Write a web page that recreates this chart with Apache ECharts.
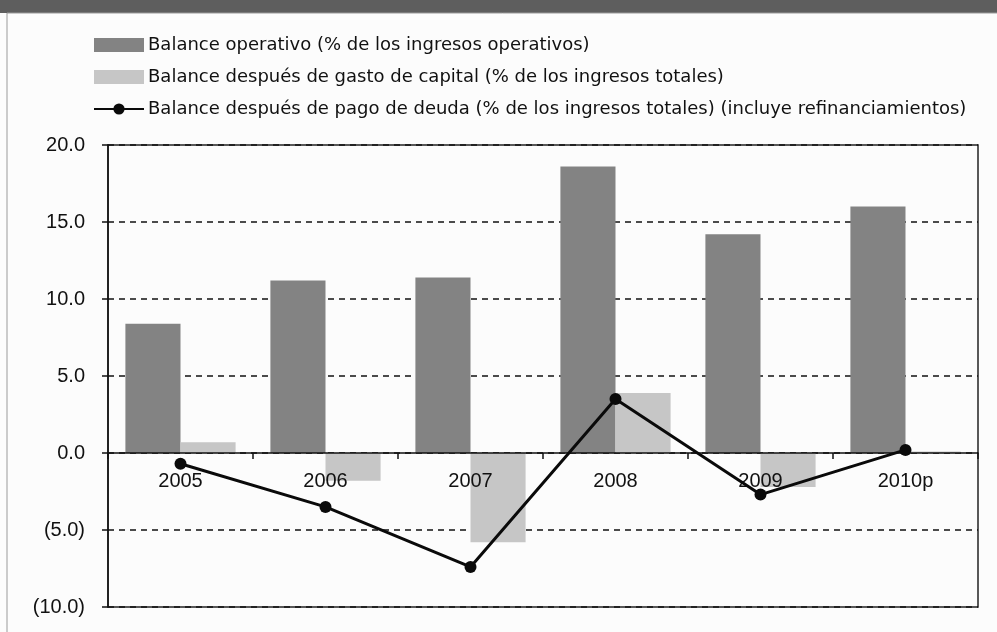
<!DOCTYPE html>
<html>
<head>
<meta charset="utf-8">
<script src="https://cdn.jsdelivr.net/npm/echarts@6/dist/echarts.min.js"></script>
<style>
  html, body { margin: 0; padding: 0; background: #fcfcfc; }
  #main { width: 997px; height: 632px; }
</style>
</head>
<body>
<div id="main"></div>
<script>
  var years = ['2005', '2006', '2007', '2008', '2009', '2010p'];
  var balanceOperativo = [8.4, 11.2, 11.4, 18.6, 14.2, 16.0];
  var balanceCapital = [0.7, -1.8, -5.8, 3.9, -2.2, 0.1];
  var balanceDeuda = [-0.7, -3.5, -7.4, 3.5, -2.7, 0.2];

  var names = [
    'Balance operativo (% de los ingresos operativos)',
    'Balance después de gasto de capital (% de los ingresos totales)',
    'Balance después de pago de deuda (% de los ingresos totales) (incluye refinanciamientos)'
  ];

  var font = '"Liberation Sans", Arial, sans-serif';

  function fmt(v) {
    return v < 0 ? '(' + Math.abs(v).toFixed(1) + ')' : v.toFixed(1);
  }

  // grid: top 145, bottom 25 -> zero line sits 154px above the bottom edge
  var myChart = echarts.init(document.getElementById('main'));
  myChart.setOption({
    backgroundColor: '#fcfcfc',
    animation: false,
    graphic: [
      { type: 'rect', shape: { x: 0, y: 0, width: 997, height: 13 }, style: { fill: '#5e5e5e' } },
      { type: 'rect', shape: { x: 7, y: 13, width: 1000, height: 630 }, style: { fill: 'none', stroke: '#9a9a9a', lineWidth: 1 } }
    ],
    legend: {
      orient: 'vertical',
      left: 88,
      top: 31,
      itemWidth: 50,
      itemHeight: 14,
      itemGap: 14,
      data: [
        { name: names[0], icon: 'rect' },
        { name: names[1], icon: 'rect' },
        { name: names[2] }
      ],
      textStyle: { fontFamily: '"DejaVu Sans", sans-serif', fontSize: 18, color: '#111', padding: [0, 0, 0, -1] }
    },
    grid: {
      left: 108, right: 19, top: 145, bottom: 25,
      show: true, borderColor: '#222', borderWidth: 1.5, backgroundColor: 'transparent'
    },
    xAxis: {
      type: 'category',
      data: years,
      offset: -154,
      z: 5,
      axisLine: { onZero: false, lineStyle: { color: '#111', width: 1.5 } },
      axisTick: { show: true, length: 6, lineStyle: { color: '#111', width: 1.5 } },
      axisLabel: { fontFamily: font, fontSize: 20, color: '#111', margin: 18 }
    },
    yAxis: {
      type: 'value',
      min: -10, max: 20, interval: 5,
      axisLine: { show: true, lineStyle: { color: '#111', width: 1.5 } },
      axisTick: { show: true, length: 6, lineStyle: { color: '#111', width: 1.5 } },
      axisLabel: { fontFamily: font, fontSize: 20, color: '#111', margin: 23, formatter: fmt },
      splitLine: { show: true, lineStyle: { color: '#111', width: 1.5, type: [6, 5] } }
    },
    series: [
      {
        name: names[0], type: 'bar', data: balanceOperativo,
        barGap: '0%', barCategoryGap: '24%',
        itemStyle: { color: '#838383' }
      },
      {
        name: names[1], type: 'bar', data: balanceCapital,
        itemStyle: { color: '#c6c6c6' }
      },
      {
        name: names[2], type: 'line', data: balanceDeuda, z: 10,
        symbol: 'circle', symbolSize: 12,
        lineStyle: { color: '#0a0a0a', width: 3 },
        itemStyle: { color: '#0a0a0a' }
      }
    ]
  });
</script>
</body>
</html>
